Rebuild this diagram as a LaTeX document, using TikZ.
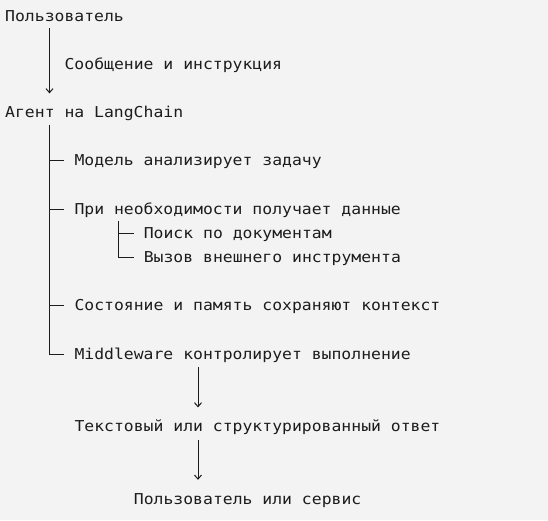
\documentclass[tikz,border=0pt]{standalone}
\usepackage{fontspec}
\usepackage{tikz}
\usetikzlibrary{positioning}
\usetikzlibrary{arrows.meta}
\newfontfamily\treefont[FakeStretch=1.095]{DejaVu Sans Mono}
\definecolor{paper}{HTML}{F3F3F3}
\definecolor{ink}{HTML}{1C1C1C}
\tikzset{
  line/.style={anchor=west,inner sep=0pt,text height=12pt,text depth=2pt,
    text=ink,font=\treefont\fontsize{15}{18}\selectfont},
  wire/.style={draw=ink,line width=1pt},
  flow/.style={wire,-{Straight Barb[length=4pt,width=7pt,line width=1pt]}}
}

\begin{document}
\begin{tikzpicture}[x=1pt,y=-1pt]
      \fill[paper] (0,0) rectangle (548,520);
      \useasboundingbox (0,0) rectangle (548,520);
      \coordinate (trunk) at (49.5,0);
      \coordinate (subtrunk) at (118.9,0);
      \coordinate (outtrunk) at (198,0);

      \node[line] (user)   at (5,16)       {Пользователь};
      \node[line] (msg)    at (64.4,64.3)  {Сообщение и инструкция};
      \node[line] (agent)  at (5,112.6)    {Агент на LangChain};
      \node[line] (model)  at (74.3,160.9) {Модель анализирует задачу};
      \node[line] (fetch)  at (74.3,209.2) {При необходимости получает данные};
      \node[line] (docs)   at (143.6,233.4){Поиск по документам};
      \node[line] (tool)   at (143.6,257.5){Вызов внешнего инструмента};
      \node[line] (memory) at (74.3,305.8) {Состояние и память сохраняют контекст};
      \node[line] (mw)     at (74.3,354.1) {Middleware контролирует выполнение};
      \node[line] (answer) at (74.3,426.6) {Текстовый или структурированный ответ};
      \node[line] (client) at (133.7,499)  {Пользователь или сервис};

      \draw[flow,shorten <=5pt,shorten >=12pt] (user.south -| trunk) -- (agent.north -| trunk);

      \draw[wire,shorten <=5pt,shorten >=10pt] (agent.south -| trunk) |- (mw.west);
      \draw[wire,shorten >=10pt] (model.west -| trunk) -- (model.west);
      \draw[wire,shorten >=10pt] (fetch.west -| trunk) -- (fetch.west);
      \draw[wire,shorten >=10pt] (memory.west -| trunk) -- (memory.west);

      \draw[wire,shorten <=5pt,shorten >=10pt] (fetch.south -| subtrunk) |- (docs.west);
      \draw[wire,shorten <=5pt,shorten >=10pt] (fetch.south -| subtrunk) |- (tool.west);

      \draw[flow,shorten <=6pt,shorten >=12pt] (mw.south -| outtrunk) -- (answer.north -| outtrunk);
      \draw[flow,shorten <=6pt,shorten >=12pt] (answer.south -| outtrunk) -- (client.north -| outtrunk);
\end{tikzpicture}
\end{document}
